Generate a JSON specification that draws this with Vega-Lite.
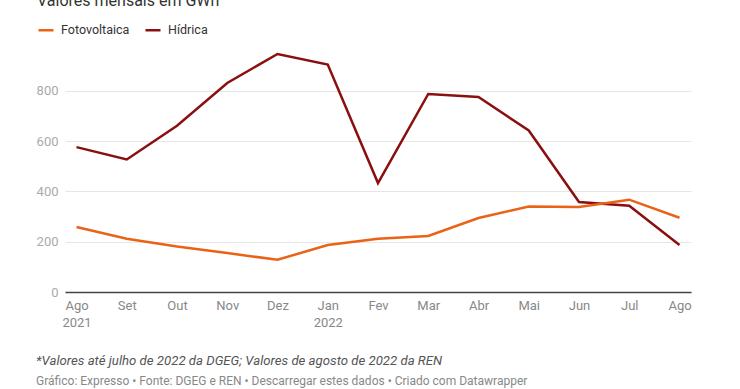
{
  "$schema": "https://vega.github.io/schema/vega-lite/v6.json",
  "width": 626,
  "height": 239,
  "autosize": {"type": "none"},
  "padding": {"left": 65, "top": 53, "right": 49, "bottom": 97},
  "background": "white",
  "config": {"view": {"stroke": null}, "font": "Roboto"},
  "title": {
    "text": "*Valores até julho de 2022 da DGEG; Valores de agosto de 2022 da REN",
    "subtitle": "Gráfico: Expresso • Fonte: DGEG e REN • Descarregar estes dados • Criado com Datawrapper",
    "orient": "bottom",
    "anchor": "start",
    "frame": "bounds",
    "font": "Roboto",
    "fontSize": 13.2,
    "fontStyle": "italic",
    "fontWeight": "normal",
    "color": "#555555",
    "subtitleFont": "Roboto",
    "subtitleFontSize": 12,
    "subtitleColor": "#888888",
    "subtitlePadding": 8,
    "offset": 26
  },
  "data": {
    "values": [
      {"mes": "Ago 2021", "serie": "Hídrica", "valor": 576},
      {"mes": "Set 2021", "serie": "Hídrica", "valor": 527},
      {"mes": "Out 2021", "serie": "Hídrica", "valor": 661},
      {"mes": "Nov 2021", "serie": "Hídrica", "valor": 831},
      {"mes": "Dez 2021", "serie": "Hídrica", "valor": 946},
      {"mes": "Jan 2022", "serie": "Hídrica", "valor": 904},
      {"mes": "Fev 2022", "serie": "Hídrica", "valor": 433},
      {"mes": "Mar 2022", "serie": "Hídrica", "valor": 787},
      {"mes": "Abr 2022", "serie": "Hídrica", "valor": 775},
      {"mes": "Mai 2022", "serie": "Hídrica", "valor": 642},
      {"mes": "Jun 2022", "serie": "Hídrica", "valor": 358},
      {"mes": "Jul 2022", "serie": "Hídrica", "valor": 343},
      {"mes": "Ago 2022", "serie": "Hídrica", "valor": 187},
      {"mes": "Ago 2021", "serie": "Fotovoltaica", "valor": 258},
      {"mes": "Set 2021", "serie": "Fotovoltaica", "valor": 212},
      {"mes": "Out 2021", "serie": "Fotovoltaica", "valor": 181},
      {"mes": "Nov 2021", "serie": "Fotovoltaica", "valor": 155},
      {"mes": "Dez 2021", "serie": "Fotovoltaica", "valor": 128},
      {"mes": "Jan 2022", "serie": "Fotovoltaica", "valor": 187},
      {"mes": "Fev 2022", "serie": "Fotovoltaica", "valor": 212},
      {"mes": "Mar 2022", "serie": "Fotovoltaica", "valor": 223},
      {"mes": "Abr 2022", "serie": "Fotovoltaica", "valor": 294},
      {"mes": "Mai 2022", "serie": "Fotovoltaica", "valor": 340},
      {"mes": "Jun 2022", "serie": "Fotovoltaica", "valor": 338},
      {"mes": "Jul 2022", "serie": "Fotovoltaica", "valor": 367},
      {"mes": "Ago 2022", "serie": "Fotovoltaica", "valor": 295}
    ]
  },
  "mark": {"type": "line", "strokeWidth": 2.5, "strokeJoin": "miter"},
  "encoding": {
    "x": {
      "field": "mes",
      "type": "ordinal",
      "sort": ["Ago 2021", "Set 2021", "Out 2021", "Nov 2021", "Dez 2021", "Jan 2022", "Fev 2022", "Mar 2022", "Abr 2022", "Mai 2022", "Jun 2022", "Jul 2022", "Ago 2022"],
      "scale": {"type": "point", "padding": 0.229},
      "axis": {
        "title": null,
        "labelAngle": 0,
        "labelExpr": "indexof(['Ago 2021','Jan 2022'], datum.value) >= 0 ? split(datum.value, ' ') : slice(datum.value, 0, 3)",
        "domainColor": "#444444",
        "domainWidth": 1.5,
        "ticks": false,
        "grid": false,
        "labelPadding": 7,
        "labelColor": "#888888",
        "labelFontSize": 13,
        "labelLineHeight": 17,
        "labelFont": "Roboto"
      }
    },
    "y": {
      "field": "valor",
      "type": "quantitative",
      "scale": {"domain": [0, 950], "nice": false},
      "axis": {
        "title": null,
        "values": [0, 200, 400, 600, 800],
        "domain": false,
        "ticks": false,
        "gridColor": "#e6e6e6",
        "gridWidth": 1,
        "labelColor": "#aaaaaa",
        "labelFontSize": 13,
        "labelPadding": 7,
        "labelFont": "Roboto"
      }
    },
    "color": {
      "field": "serie",
      "type": "nominal",
      "scale": {"domain": ["Fotovoltaica", "Hídrica"], "range": ["#ea6216", "#8a1010"]},
      "legend": {
        "orient": "none",
        "legendX": -28,
        "legendY": -60,
        "direction": "horizontal",
        "title": "Valores mensais em GWh",
        "titleOrient": "top",
        "titleLimit": 600,
        "titleFont": "Roboto",
        "titleFontSize": 16,
        "titleFontWeight": "normal",
        "titleColor": "#333333",
        "titlePadding": 12,
        "symbolType": "stroke",
        "symbolSize": 225,
        "symbolStrokeWidth": 2.5,
        "labelFont": "Roboto",
        "labelFontSize": 12.5,
        "labelColor": "#333333",
        "labelOffset": 6,
        "columnPadding": 10
      }
    }
  }
}
